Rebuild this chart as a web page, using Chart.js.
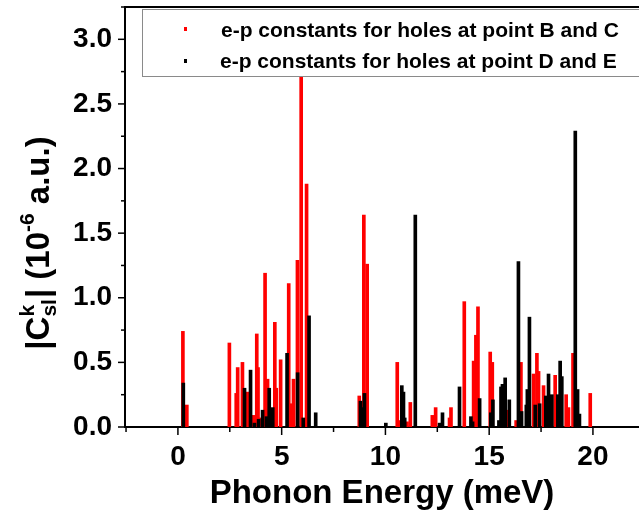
<!DOCTYPE html>
<html>
<head>
<meta charset="utf-8">
<script src="https://cdn.jsdelivr.net/npm/chart.js@4.4.1/dist/chart.umd.min.js"></script>
<style>
  html, body { margin: 0; padding: 0; background: #fff; overflow: hidden; }
  #wrap { width: 639px; height: 515px; }
</style>
</head>
<body>
<div id="wrap"><canvas id="chart" width="639" height="515"></canvas></div>
<script>
// holes at point B and C (red stems): phonon energy in meV, |C| in 1e-6 a.u.
const bcEnergy = [0.24, 0.43, 2.48, 2.81, 2.88, 3.11, 3.36, 3.64, 3.80, 3.86, 3.93, 4.20, 4.32, 4.67, 4.74,
    4.95, 5.34, 5.46, 5.57, 5.76, 5.94, 6.20, 8.74, 8.96, 9.12, 10.57, 10.68, 11.04, 11.20, 12.26, 12.42,
    13.09, 13.16, 13.80, 14.25, 14.36, 14.46, 15.05, 15.15, 15.88, 16.30, 16.53, 17.14, 17.30, 17.38,
    17.62, 18.18, 18.71, 18.82, 19.04, 19.87];
const bcValue = [0.74, 0.17, 0.65, 0.26, 0.46, 0.50, 0.27, 0.09, 0.72, 0.46, 0.07, 1.19, 0.37, 0.81, 0.30,
    0.52, 1.11, 0.18, 0.37, 1.29, 2.72, 1.88, 0.24, 1.64, 1.26, 0.50, 0.05, 0.04, 0.19, 0.09, 0.15,
    0.07, 0.15, 0.97, 0.51, 0.71, 0.93, 0.58, 0.50, 0.13, 0.05, 0.50, 0.41, 0.57, 0.43,
    0.32, 0.40, 0.25, 0.15, 0.57, 0.26];

// holes at point D and E (black stems)
const deEnergy = [0.26, 3.21, 3.50, 3.69, 3.89, 4.08, 4.27, 4.40, 4.47, 4.57, 5.26, 5.77, 6.04, 6.32, 6.64,
    8.80, 8.90, 8.99, 10.02, 10.79, 10.87, 10.93, 11.44, 12.61, 12.75, 13.57, 14.12, 14.20, 14.54, 15.08,
    15.18, 15.47, 15.57, 15.64, 15.77, 15.97, 16.41, 16.56, 16.79, 16.84, 16.94, 17.22, 17.43, 17.73,
    17.86, 18.02, 18.31, 18.42, 18.50, 19.15, 19.26, 19.35];
const deValue = [0.34, 0.30, 0.44, 0.03, 0.06, 0.13, 0.08, 0.30, 0.06, 0.15, 0.57, 0.42, 0.07, 0.86, 0.11,
    0.20, 0.15, 0.26, 0.03, 0.32, 0.27, 0.07, 1.64, 0.03, 0.11, 0.31, 0.08, 0.04, 0.22, 0.11,
    0.21, 0.05, 0.31, 0.33, 0.38, 0.21, 1.28, 0.12, 0.17, 0.29, 0.85, 0.17, 0.18, 0.24,
    0.41, 0.25, 0.25, 0.51, 0.39, 2.29, 0.29, 0.10];

const xTickValues = [0, 5, 10, 15, 20];
const yTickValues = [0, 0.5, 1.0, 1.5, 2.0, 2.5, 3.0];
const legendLabels = ['e-p constants for holes at point B and C', 'e-p constants for holes at point D and E'];
const xTitle = 'Phonon Energy (meV)';

const FONT = "'Liberation Sans', Arial, Helvetica, sans-serif";

function toPoints(xs, ys) {
    return xs.map((x, i) => ({x: x, y: ys[i]}));
}

// y axis title has a superscript/subscript, so it is drawn by hand
function drawYTitle(ctx, cx, cy) {
    const big = 'bold 33px ' + FONT;
    const small = 'bold 21px ' + FONT;
    const parts = [
        {t: '|C', f: big},
        {stack: [{t: 'k', dy: -15}, {t: 'sl', dy: 7}], f: small},
        {t: '| (10', f: big},
        {t: '-6', f: small, dy: -15},
        {t: ' a.u.)', f: big}
    ];
    let total = 0;
    parts.forEach(p => {
        ctx.font = p.f;
        if (p.stack) {
            p.w = Math.max(...p.stack.map(s => ctx.measureText(s.t).width)) + 1;
        } else {
            p.w = ctx.measureText(p.t).width;
        }
        total += p.w;
    });
    ctx.save();
    ctx.translate(cx, cy);
    ctx.rotate(-Math.PI / 2);
    ctx.fillStyle = '#000';
    ctx.textBaseline = 'alphabetic';
    ctx.textAlign = 'left';
    let x = -total / 2;
    parts.forEach(p => {
        ctx.font = p.f;
        if (p.stack) {
            p.stack.forEach(s => ctx.fillText(s.t, x, s.dy));
        } else {
            ctx.fillText(p.t, x, p.dy || 0);
        }
        x += p.w;
    });
    ctx.restore();
}

const decor = {
    id: 'decor',
    afterDraw(chart) {
        const ctx = chart.ctx;
        const area = chart.chartArea;
        const xs = chart.scales.x;
        const ys = chart.scales.y;
        ctx.save();
        ctx.strokeStyle = '#000';

        // top frame
        ctx.lineWidth = 2;
        ctx.beginPath();
        ctx.moveTo(area.left - 1, area.top);
        ctx.lineTo(area.right, area.top);
        ctx.stroke();

        // tick marks, major and minor
        ctx.lineWidth = 1.5;
        for (let i = 0; i * 0.25 <= ys.max; i++) {
            const y = ys.getPixelForValue(i * 0.25);
            const len = i % 2 === 0 ? 6 : 3;
            ctx.beginPath();
            ctx.moveTo(area.left - 1, y);
            ctx.lineTo(area.left - 1 - len, y);
            ctx.stroke();
        }
        for (let v = -2.5; v <= xs.max; v += 2.5) {
            if (v < xs.min) continue;
            const x = xs.getPixelForValue(v);
            const len = Math.abs(v % 5) < 1e-9 ? 7 : 4;
            ctx.beginPath();
            ctx.moveTo(x, area.bottom + 1);
            ctx.lineTo(x, area.bottom + 1 + len);
            ctx.stroke();
        }

        // legend box
        ctx.fillStyle = '#fff';
        ctx.fillRect(142, 9, 500, 68);
        ctx.strokeStyle = '#8a8a8a';
        ctx.lineWidth = 1;
        ctx.strokeRect(142.5, 9.5, 500, 67);
        ctx.fillStyle = '#ff0000';
        ctx.fillRect(184, 27, 3, 4);
        ctx.fillStyle = '#000';
        ctx.fillRect(184, 59, 3, 4);
        ctx.font = 'bold 21px ' + FONT;
        ctx.textBaseline = 'middle';
        ctx.textAlign = 'left';
        ctx.fillText(legendLabels[0], 221, 31);
        ctx.fillText(legendLabels[1], 220, 62);

        drawYTitle(ctx, 49, 243);
        ctx.restore();
    }
};

const config = {
    type: 'bar',
    data: {
        datasets: [
            {
                label: legendLabels[0],
                data: toPoints(bcEnergy, bcValue),
                backgroundColor: '#ff0000',
                borderWidth: 0,
                barThickness: 3,
                order: 2
            },
            {
                label: legendLabels[1],
                data: toPoints(deEnergy, deValue),
                backgroundColor: '#000000',
                borderWidth: 0,
                barThickness: 3,
                order: 1
            }
        ]
    },
    options: {
        responsive: false,
        animation: false,
        grouped: false,
        layout: {padding: {top: 7, right: 0, left: 0, bottom: 0}},
        plugins: {
            legend: {display: false},
            tooltip: {enabled: false}
        },
        scales: {
            x: {
                type: 'linear',
                offset: false,
                min: -2.55,
                max: 22.22,
                grid: {display: false, drawTicks: false},
                border: {display: true, color: '#000', width: 2},
                afterBuildTicks: (scale) => {
                    scale.ticks = xTickValues.map(v => ({value: v}));
                },
                afterFit: (scale) => {
                    scale.height = 88;
                    scale.paddingLeft = 0;
                    scale.paddingRight = 0;
                },
                ticks: {
                    color: '#000',
                    padding: 13,
                    maxRotation: 0,
                    autoSkip: false,
                    font: {family: FONT, size: 28, weight: 'bold'},
                    callback: (v) => String(v)
                },
                title: {
                    display: true,
                    text: xTitle,
                    color: '#000',
                    padding: {top: 0, bottom: 1},
                    font: {family: FONT, size: 33, weight: 'bold'}
                }
            },
            y: {
                min: 0,
                max: 3.25,
                grid: {display: false, drawTicks: false},
                border: {display: true, color: '#000', width: 2},
                afterBuildTicks: (scale) => {
                    scale.ticks = yTickValues.map(v => ({value: v}));
                },
                afterFit: (scale) => {
                    scale.width = 125;
                    scale.paddingTop = 0;
                    scale.paddingBottom = 0;
                },
                ticks: {
                    color: '#000',
                    padding: 13,
                    autoSkip: false,
                    font: {family: FONT, size: 28, weight: 'bold'},
                    callback: (v) => v.toFixed(1)
                }
            }
        }
    },
    plugins: [decor]
};

const ctx = document.getElementById('chart').getContext('2d');
window.stemChart = new Chart(ctx, config);
</script>
</body>
</html>
